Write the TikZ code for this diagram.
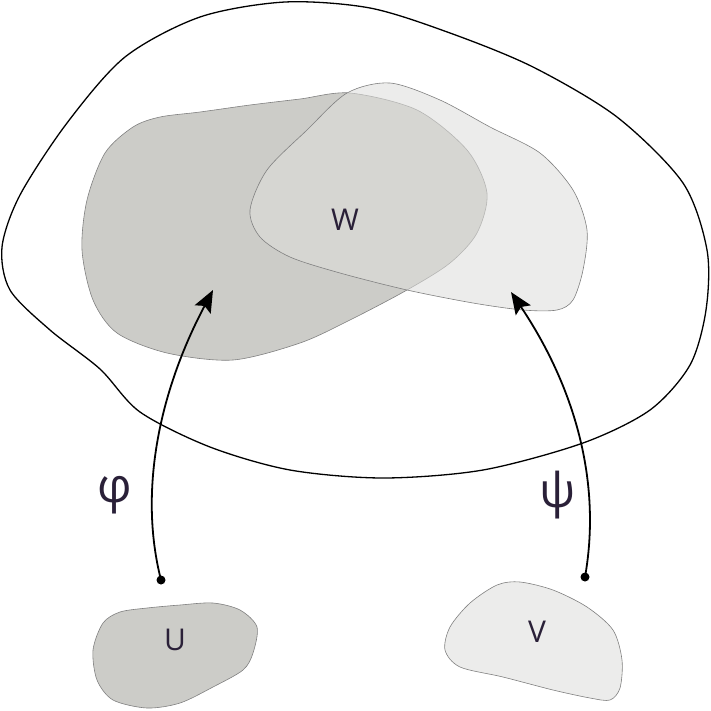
\documentclass[tikz,border=0pt]{standalone}
\usepackage{fontspec}
\setmainfont{Open Sans}
\usetikzlibrary{arrows.meta}
\definecolor{labelink}{RGB}{42,32,56}
\definecolor{darkfill}{RGB}{204,204,200}
\definecolor{lightfill}{RGB}{222,222,219}
\tikzset{
  region/.style={draw=black!50, line width=0.6pt},
  mapping/.style={line width=1.8pt, -{Stealth[length=22pt,width=18pt,inset=4pt]}},
  setlabel/.style={text=labelink, font=\fontsize{30}{32}\selectfont},
  maplabel/.style={text=labelink, font=\fontsize{48}{50}\selectfont},
}
\begin{document}
\begin{tikzpicture}[x=1pt,y=-1pt]
        \useasboundingbox (0,0) rectangle (711,710);
        \draw [line width=1.3pt] plot [smooth cycle] coordinates {(2,247) (20,195) (67,123) (125,57) (200,17) (285,2) (370,8) (450,33) (533,67) (617,117) (683,183) (707,250) (706,310) (690,365) (650,410) (583,443) (483,470) (383,478) (290,470) (210,447) (140,412) (100,369) (50,330) (10,290)};
        \filldraw [region, fill=darkfill] plot [smooth cycle] coordinates {(133,127) (160,117) (200,112) (250,105) (300,99) (350,93) (417,110) (467,150) (487,193) (477,233) (450,263) (407,290) (350,320) (300,343) (233,360) (167,353) (117,333) (93,300) (82,250) (87,200) (105,153)};
        \filldraw [region, fill=lightfill, fill opacity=0.57] plot [smooth cycle] coordinates {(390,83) (440,100) (490,127) (540,153) (573,190) (587,230) (583,270) (573,300) (557,310) (523,310) (473,303) (407,290) (340,273) (290,257) (260,237) (250,210) (267,170) (307,130) (347,93)};
        \filldraw [region, fill=darkfill] plot [smooth cycle] coordinates {(120,612) (147,608) (180,605) (213,603) (240,610) (257,627) (253,653) (243,670) (213,687) (180,703) (147,708) (113,700) (97,680) (93,650) (103,623)};
        \filldraw [region, fill=lightfill, fill opacity=0.57] plot [smooth cycle] coordinates {(520,582) (553,590) (587,607) (613,630) (622,660) (620,688) (610,700) (590,698) (553,690) (503,677) (460,667) (445,650) (450,627) (470,603) (497,585)};
        \node [setlabel] (W) at(345,220) {W};
        \node [setlabel] (U) at(175,640) {U};
        \node [setlabel] (V) at(537,632) {V};
        \coordinate (phi start) at(161,580);
        \coordinate (phi end) at(213,290);
        \coordinate (psi start) at(585,577);
        \coordinate (psi end) at(511,292);
        \fill (phi start) circle [radius=4.5pt];
        \fill (psi start) circle [radius=4.5pt];
        \draw [mapping] (phi start) .. controls (138,490) and (160,390) .. (phi end);
        \draw [mapping] (psi start) .. controls (603,475) and (570,380) .. (psi end);
        \node [maplabel] (phi) at(115,495) {φ};
        \node [maplabel] (psi) at(558,495) {ψ};
\end{tikzpicture}
\end{document}
